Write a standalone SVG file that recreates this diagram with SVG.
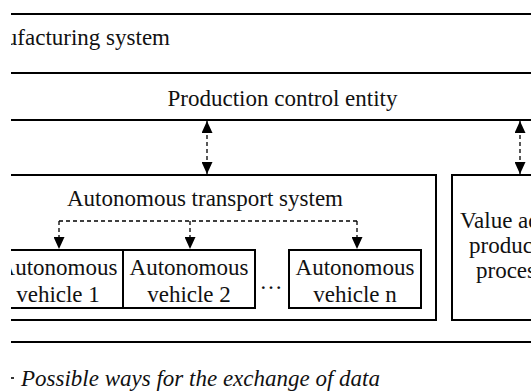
<svg xmlns="http://www.w3.org/2000/svg" width="531" height="391" viewBox="0 0 531 391">
  <style>
    .box { fill: none; stroke: #000; stroke-width: 2; }
    .lbl { font-family: "Liberation Serif", "Times New Roman", serif; font-size: 23px; fill: #111; }
    .mid { text-anchor: middle; }
    .dash { fill: none; stroke: #000; stroke-width: 1.3; stroke-dasharray: 4 3; }
  </style>
  <defs>
    <clipPath id="frame">
      <rect x="11" y="0" width="520" height="391"/>
    </clipPath>
    <marker id="head" viewBox="0 0 12 11" refX="12" refY="5.5" markerWidth="12" markerHeight="11" markerUnits="userSpaceOnUse" orient="auto-start-reverse">
      <path d="M0,0 L12,5.5 L0,11 Z" fill="#000" stroke="none"/>
    </marker>
  </defs>

  <rect width="531" height="391" fill="#fff"/>

  <g clip-path="url(#frame)">
    <!-- outer system boundary -->
    <g id="manufacturing-system">
      <rect class="box" x="-20" y="14" width="580" height="328"/>
      <text class="lbl" x="170" y="45" text-anchor="end">Manufacturing system</text>
    </g>

    <g id="production-control">
      <rect class="box" x="-20" y="73" width="580" height="47"/>
      <text class="lbl mid" x="282.5" y="106">Production control entity</text>
    </g>

    <g id="transport-system">
      <rect class="box" x="-20" y="175" width="456" height="145"/>
      <text class="lbl mid" x="205" y="206">Autonomous transport system</text>
      <text class="lbl mid" x="271" y="289">…</text>
    </g>

    <g id="vehicle-1">
      <rect class="box" x="-9" y="250" width="132" height="58"/>
      <text class="lbl mid" x="58" y="275">Autonomous</text>
      <text class="lbl mid" x="58" y="302">vehicle 1</text>
    </g>

    <g id="vehicle-2">
      <rect class="box" x="123" y="250" width="132" height="58"/>
      <text class="lbl mid" x="189" y="275">Autonomous</text>
      <text class="lbl mid" x="189" y="302">vehicle 2</text>
    </g>

    <g id="vehicle-n">
      <rect class="box" x="289" y="250" width="132" height="58"/>
      <text class="lbl mid" x="355" y="275">Autonomous</text>
      <text class="lbl mid" x="355" y="302">vehicle n</text>
    </g>

    <g id="value-adding">
      <rect class="box" x="452" y="175" width="120" height="145"/>
      <text class="lbl" x="460" y="228">Value added</text>
      <text class="lbl" x="469" y="253">production</text>
      <text class="lbl" x="476" y="278">process</text>
    </g>

    <g id="connectors">
      <line class="dash" x1="207" y1="121" x2="207" y2="174" marker-start="url(#head)" marker-end="url(#head)"/>
      <line class="dash" x1="520" y1="121" x2="520" y2="174" marker-start="url(#head)" marker-end="url(#head)"/>
      <path class="dash" d="M59,221 H357"/>
      <line class="dash" x1="59" y1="221" x2="59" y2="249" marker-end="url(#head)"/>
      <line class="dash" x1="190" y1="221" x2="190" y2="249" marker-end="url(#head)"/>
      <line class="dash" x1="357" y1="221" x2="357" y2="249" marker-end="url(#head)"/>
    </g>

    <g id="legend">
      <line x1="8" y1="378" x2="14" y2="378" stroke="#000" stroke-width="1.6"/>
      <text class="lbl" x="21" y="386" font-style="italic">Possible ways for the exchange of data</text>
    </g>
  </g>
</svg>
